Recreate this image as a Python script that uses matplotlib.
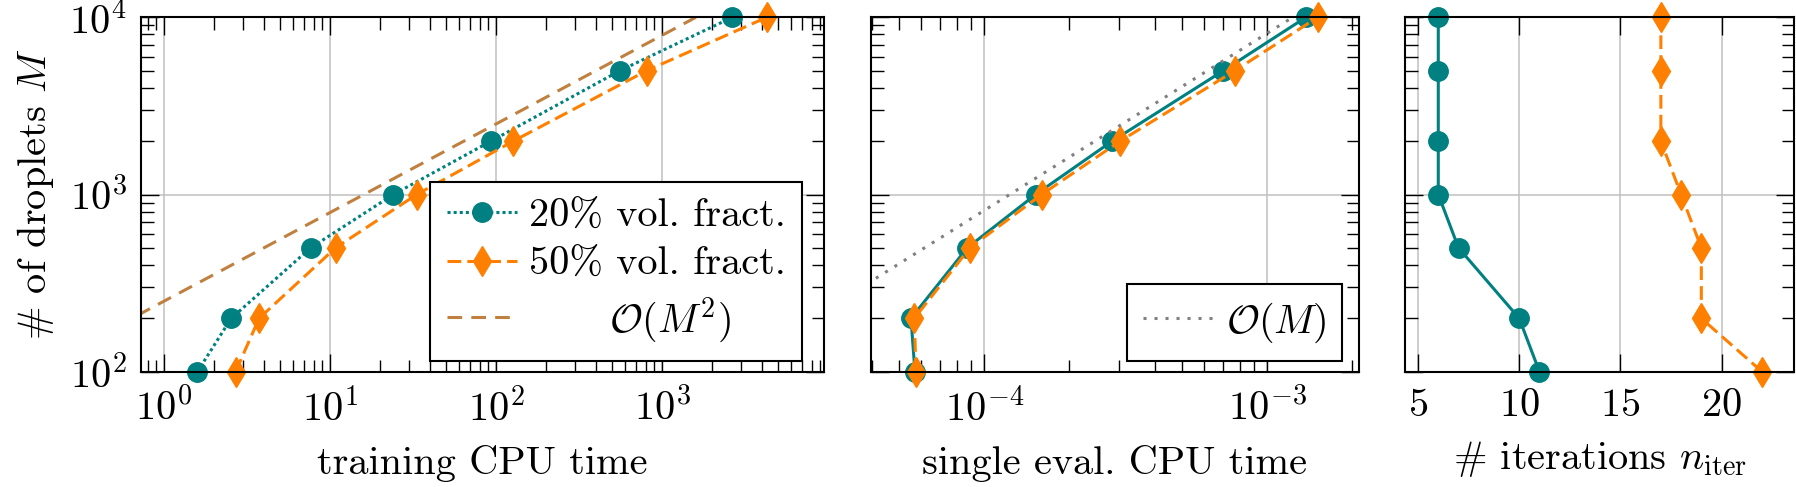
"""Training / evaluation cost and iteration count vs number of droplets."""
import matplotlib
matplotlib.use("Agg")
import matplotlib.pyplot as plt
from matplotlib.ticker import FixedLocator, NullFormatter

plt.rcParams['font.family'] = 'cmr10'
plt.rcParams['mathtext.fontset'] = 'cm'
plt.rcParams['axes.formatter.use_mathtext'] = True
plt.rcParams['axes.unicode_minus'] = False

M = [100, 200, 500, 1000, 2000, 5000, 10000]

# training CPU time
train_20 = [1.59, 2.54, 7.65, 24.1, 93.3, 558, 2654]
train_50 = [2.70, 3.74, 10.8, 33.3, 127, 809, 4274]
# single evaluation CPU time
eval_20 = [5.69e-5, 5.51e-5, 8.71e-5, 1.52e-4, 2.83e-4, 7.0e-4, 1.37e-3]
eval_50 = [5.74e-5, 5.66e-5, 8.9e-5, 1.596e-4, 3.02e-4, 7.69e-4, 1.507e-3]
# iterations
iter_20 = [11, 10, 7, 6, 6, 6, 6]
iter_50 = [22, 19, 19, 18, 17, 17, 17]

# reference slopes
ref2_M = [100, 10000]
ref2_T = [0.16, 1600]
ref1_M = [100, 10000]
ref1_T = [1.23e-5, 1.23e-3]

TEAL = '#008080'
ORANGE = '#ff8000'
BROWN = '#bf8040'
GRAY = '#808080'

W, H = 1796, 487
FS = 29


def box(x0, x1, y0=17.3, y1=371.7):
    return [x0 / W, 1 - y1 / H, (x1 - x0) / W, (y1 - y0) / H]


def style(ax):
    ax.set_yscale('log')
    ax.set_ylim(100, 10000)
    ax.grid(True, which='major', color='#c0c0c0', lw=1.1)
    ax.set_axisbelow(True)
    ax.tick_params(which='both', direction='in', top=True, right=True,
                   labelsize=FS, width=1.0)
    ax.tick_params(axis='x', which='both', pad=12)
    ax.tick_params(axis='y', which='both', pad=10)
    ax.tick_params(which='major', length=13)
    ax.tick_params(which='minor', length=9)
    for s in ax.spines.values():
        s.set_linewidth(1.5)


def legend(ax, anchor, **kw):
    leg = ax.legend(loc='lower right', bbox_to_anchor=anchor, fontsize=FS,
                    frameon=True, fancybox=False, edgecolor='black',
                    framealpha=1, handlelength=1.75, handletextpad=0.3,
                    borderpad=0.4, borderaxespad=0, **kw)
    leg.get_frame().set_linewidth(1.5)
    return leg


fig = plt.figure(figsize=(W / 100, H / 100), dpi=100)
ax1 = fig.add_axes(box(140.7, 824))
ax2 = fig.add_axes(box(870.7, 1359))
ax3 = fig.add_axes(box(1405.3, 1794))

# panel 1
ax1.set_xscale('log')
style(ax1)
ax1.plot(train_20, M, color=TEAL, lw=2.2, ls=(0, (1, 1)), marker='o', ms=14,
         label='20% vol. fract.')
ax1.plot(train_50, M, color=ORANGE, lw=2.2, ls=(0, (4.5, 2)), marker='d',
         ms=15.5, label='50% vol. fract.')
ax1.plot(ref2_T, ref2_M, color=BROWN, lw=2.2, ls=(0, (4.8, 3)),
         label='      $\\mathcal{O}(M^2)$')
ax1.set_xlim(0.724, 9460)
ax1.set_xlabel('training CPU time', fontsize=FS, labelpad=11)
ax1.set_ylabel('# of droplets $M$', fontsize=FS, labelpad=10)
legend(ax1, (0.968, 0.031), labelspacing=0.3)

# panel 2
ax2.set_xscale('log')
style(ax2)
ax2.plot(eval_20, M, color=TEAL, lw=2.2, marker='o', ms=14)
ax2.plot(eval_50, M, color=ORANGE, lw=2.2, ls=(0, (4.5, 2)), marker='d',
         ms=15.5)
ax2.plot(ref1_T, ref1_M, color=GRAY, lw=2.2, ls=(0, (1, 2.6)),
         label='$\\mathcal{O}(M)$')
ax2.set_xlim(3.97e-5, 2.11e-3)
ax2.yaxis.set_major_formatter(NullFormatter())
ax2.yaxis.set_minor_formatter(NullFormatter())
ax2.set_xlabel('single eval. CPU time', fontsize=FS, labelpad=11)
legend(ax2, (0.966, 0.031))

# panel 3
style(ax3)
ax3.plot(iter_20, M, color=TEAL, lw=2.2, marker='o', ms=14, clip_on=False)
ax3.plot(iter_50, M, color=ORANGE, lw=2.2, ls=(0, (4.5, 2)), marker='d',
         ms=15.5, clip_on=False)
ax3.set_xlim(4.37, 23.58)
ax3.xaxis.set_major_locator(FixedLocator([5, 10, 15, 20]))
ax3.yaxis.set_major_formatter(NullFormatter())
ax3.yaxis.set_minor_formatter(NullFormatter())
ax3.set_xlabel('# iterations $n_{\\mathrm{iter}}$', fontsize=FS, labelpad=11)

for ax in (ax1, ax2):
    for ln in ax.lines:
        ln.set_clip_on(ln.get_marker() in ('None', None, ''))

fig.savefig('out.png', dpi=100)
